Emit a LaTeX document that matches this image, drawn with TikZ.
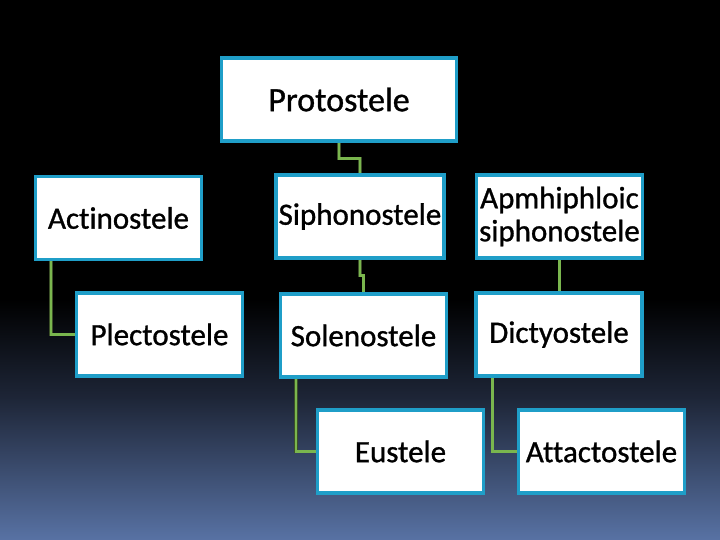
\documentclass[tikz,border=0pt]{standalone}
\usepackage{fontspec}
\setmainfont{Carlito}[Ligatures=NoCommon, FakeBold=1]
\definecolor{boxblue}{RGB}{31,158,200}
\definecolor{linkgreen}{RGB}{122,182,78}
\definecolor{linkdark}{RGB}{60,80,40}
\definecolor{bgblue}{RGB}{88,114,164}
\definecolor{bgmid}{RGB}{30,38,56}
\tikzset{ % Common styles for the stele chart
	stelebox/.style={
		draw=boxblue, line width=2.2pt, fill=white, % White box, blue frame
		minimum width=165pt, minimum height=82pt, % Box size
		inner sep=2pt, align=center,
		font=\fontsize{31}{33}\selectfont
	},
	link/.style={
		draw=linkgreen, line width=2.6pt, % Green connector
		preaction={draw=linkdark, line width=3.6pt}
	}
}

\begin{document}
\begin{tikzpicture}[x=1pt,y=-1pt]
		% Draw background
		\useasboundingbox (0,0) rectangle (720,540);
		\fill[black] (0,0) rectangle (720,300);
		\shade[top color=black, bottom color=bgmid] (0,299) rectangle (720,400);
		\shade[top color=bgmid, bottom color=bgblue] (0,399) rectangle (720,540);
		% Draw boxes / Nodes
		\node[stelebox, minimum width=234pt, font=\fontsize{34}{36}\selectfont] (proto) at (339,99.5) {Protostele};
		\node[stelebox] (actino) at (118.5,218) {Actinostele};
		\node[stelebox] (sipho) at (360,216.5) {Siphonostele};
		\node[stelebox] (amphi) at (559.5,216.5) {Apmhiphloic\\siphonostele};
		\node[stelebox] (plecto) at (159.5,334.5) {Plectostele};
		\node[stelebox] (soleno) at (363.5,335.5) {Solenostele};
		\node[stelebox] (dicty) at (559,334.5) {Dictyostele};
		\node[stelebox] (eu) at (400.5,451.5) {Eustele};
		\node[stelebox] (attacto) at (601.5,451.5) {Attactostele};
		% Draw connectors
		\draw[link] (proto.south) -- ++(0,17) -| (sipho.north);
		\draw[link] (sipho.south) -- ++(0,17) -| (soleno.north);
		\draw[link] (amphi.south) -- (amphi.south |- dicty.north);
		\draw[link] ([xshift=16pt]actino.south west) |- (plecto.west);
		\draw[link] ([xshift=16pt]soleno.south west) |- (eu.west);
		\draw[link] ([xshift=17pt]dicty.south west) |- (attacto.west);
		% Redraw boxes above connector ends
		\foreach \b in {proto,actino,sipho,amphi,plecto,soleno,dicty,eu,attacto}
			\draw[draw=boxblue, line width=2.2pt] (\b.south west) rectangle (\b.north east);
\end{tikzpicture}
\end{document}
